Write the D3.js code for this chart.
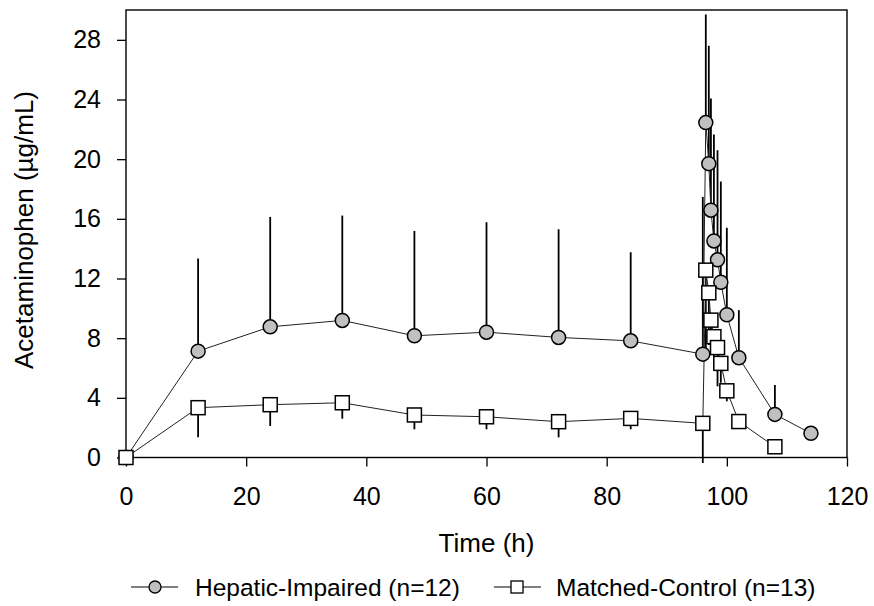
<!DOCTYPE html>
<html>
<head>
<meta charset="utf-8">
<script src="https://cdn.jsdelivr.net/npm/d3@7"></script>
<style>
  html, body { margin: 0; padding: 0; background: #fff; }
  svg { display: block; }
  text { font-family: "Liberation Sans", Arial, sans-serif; fill: #000; }
</style>
</head>
<body>
<svg id="chart" width="874" height="606"></svg>
<script>
// ---- Data ----
const hepaticTime = [0, 12, 24, 36, 48, 60, 72, 84, 96, 96.5, 97, 97.35, 97.85, 98.45, 99, 100, 102, 108, 114];
const hepaticMean = [0, 7.13, 8.76, 9.19, 8.16, 8.40, 8.05, 7.82, 6.93, 22.45, 19.7, 16.58, 14.52, 13.25, 11.75, 9.57, 6.69, 2.89, 1.62];
const hepaticSD   = [0, 6.21, 7.37, 7.03, 7.03, 7.37, 7.25, 5.94, 10.54, 7.25, 7.9, 7.48, 7.13, 7.35, 6.75, 5.83, 3.19, 1.97, 0];

const controlTime = [0, 12, 24, 36, 48, 60, 72, 84, 96, 96.5, 97, 97.35, 97.85, 98.45, 99, 100, 102, 108];
const controlMean = [0, 3.34, 3.54, 3.67, 2.85, 2.73, 2.40, 2.62, 2.29, 12.56, 11.04, 9.21, 8.10, 7.37, 6.31, 4.47, 2.41, 0.72];
const controlSD   = [0, 1.99, 1.43, 1.07, 0.96, 0.84, 1.05, 0.73, 2.66, 5.3, 3.5, 2.2, 2.1, 2.6, 1.3, 0.7, 0.4, 0];

const xTicks = [0, 20, 40, 60, 80, 100, 120];
const yTicks = [0, 4, 8, 12, 16, 20, 24, 28];
const xTitle = "Time (h)";
const yTitle = "Acetaminophen (µg/mL)";
const seriesNames = ["Hepatic-Impaired (n=12)", "Matched-Control (n=13)"];

// ---- Layout ----
const svg = d3.select("#chart");
const pL = 126, pR = 847, pT = 10, pB = 457.5;

const x = d3.scaleLinear().domain([0, 120]).range([pL, pR]);
const y = d3.scaleLinear().domain([0, 30]).range([pB, pT]);

// axes
const xAxis = d3.axisBottom(x).tickValues(xTicks).tickSize(9).tickSizeOuter(0).tickPadding(21).tickFormat(d3.format("d"));
const yAxis = d3.axisLeft(y).tickValues(yTicks).tickSize(9).tickSizeOuter(0).tickPadding(16).tickFormat(d3.format("d"));

const gx = svg.append("g").attr("transform", `translate(0,${pB})`).call(xAxis);
const gy = svg.append("g").attr("transform", `translate(${pL},0)`).call(yAxis);
[gx, gy].forEach(g => {
  g.select(".domain").remove();
  g.selectAll(".tick line").attr("stroke", "#000").attr("stroke-width", 1.3);
  g.selectAll(".tick text").style("font-size", "25px").style("font-family", '"Liberation Sans", Arial, sans-serif').attr("fill", "#000");
});

// frame
svg.append("rect")
  .attr("x", pL).attr("y", pT)
  .attr("width", pR - pL).attr("height", pB - pT)
  .attr("fill", "none").attr("stroke", "#000").attr("stroke-width", 1.4);

// titles
svg.append("text").attr("x", (pL + pR) / 2).attr("y", 552)
  .attr("text-anchor", "middle").style("font-size", "26px").text(xTitle);
svg.append("text").attr("transform", "translate(33,230) rotate(-90)")
  .attr("text-anchor", "middle").style("font-size", "26px").text(yTitle);

// data series
const hep = hepaticTime.map((t, i) => ({ t, m: hepaticMean[i], sd: hepaticSD[i] }));
const ctl = controlTime.map((t, i) => ({ t, m: controlMean[i], sd: controlSD[i] }));

const line = d3.line().x(d => x(d.t)).y(d => y(d.m));

// error bars (hepatic upward, control downward)
svg.append("g").selectAll("line").data(hep.filter(d => d.sd > 0)).join("line")
  .attr("x1", d => x(d.t)).attr("x2", d => x(d.t))
  .attr("y1", d => y(d.m)).attr("y2", d => y(d.m + d.sd))
  .attr("stroke", "#000").attr("stroke-width", 1.8);
svg.append("g").selectAll("line").data(ctl.filter(d => d.sd > 0)).join("line")
  .attr("x1", d => x(d.t)).attr("x2", d => x(d.t))
  .attr("y1", d => y(d.m)).attr("y2", d => y(d.m - d.sd))
  .attr("stroke", "#000").attr("stroke-width", 1.8);

// lines
svg.append("path").datum(hep).attr("d", line).attr("fill", "none").attr("stroke", "#222").attr("stroke-width", 1);
svg.append("path").datum(ctl).attr("d", line).attr("fill", "none").attr("stroke", "#222").attr("stroke-width", 1);

// markers
const r = 7, sq = 14;
svg.append("g").selectAll("circle").data(hep).join("circle")
  .attr("cx", d => x(d.t)).attr("cy", d => y(d.m)).attr("r", r)
  .attr("fill", "#c0c0c0").attr("stroke", "#000").attr("stroke-width", 1.5);
svg.append("g").selectAll("rect").data(ctl).join("rect")
  .attr("x", d => x(d.t) - sq / 2).attr("y", d => y(d.m) - sq / 2)
  .attr("width", sq).attr("height", sq)
  .attr("fill", "#fff").attr("stroke", "#000").attr("stroke-width", 1.5);

// legend
const ly = 587;
const leg = svg.append("g");
leg.append("line").attr("x1", 131).attr("x2", 178).attr("y1", ly).attr("y2", ly).attr("stroke", "#000").attr("stroke-width", 1);
leg.append("circle").attr("cx", 155).attr("cy", ly).attr("r", 6).attr("fill", "#c0c0c0").attr("stroke", "#000").attr("stroke-width", 1.3);
leg.append("text").attr("x", 195).attr("y", ly + 9).style("font-size", "24.5px").text(seriesNames[0]);
leg.append("line").attr("x1", 494).attr("x2", 541).attr("y1", ly).attr("y2", ly).attr("stroke", "#000").attr("stroke-width", 1);
leg.append("rect").attr("x", 517 - 6).attr("y", ly - 6).attr("width", 12).attr("height", 12).attr("fill", "#fff").attr("stroke", "#000").attr("stroke-width", 1.3);
leg.append("text").attr("x", 556).attr("y", ly + 9).style("font-size", "24.5px").text(seriesNames[1]);
</script>
</body>
</html>
